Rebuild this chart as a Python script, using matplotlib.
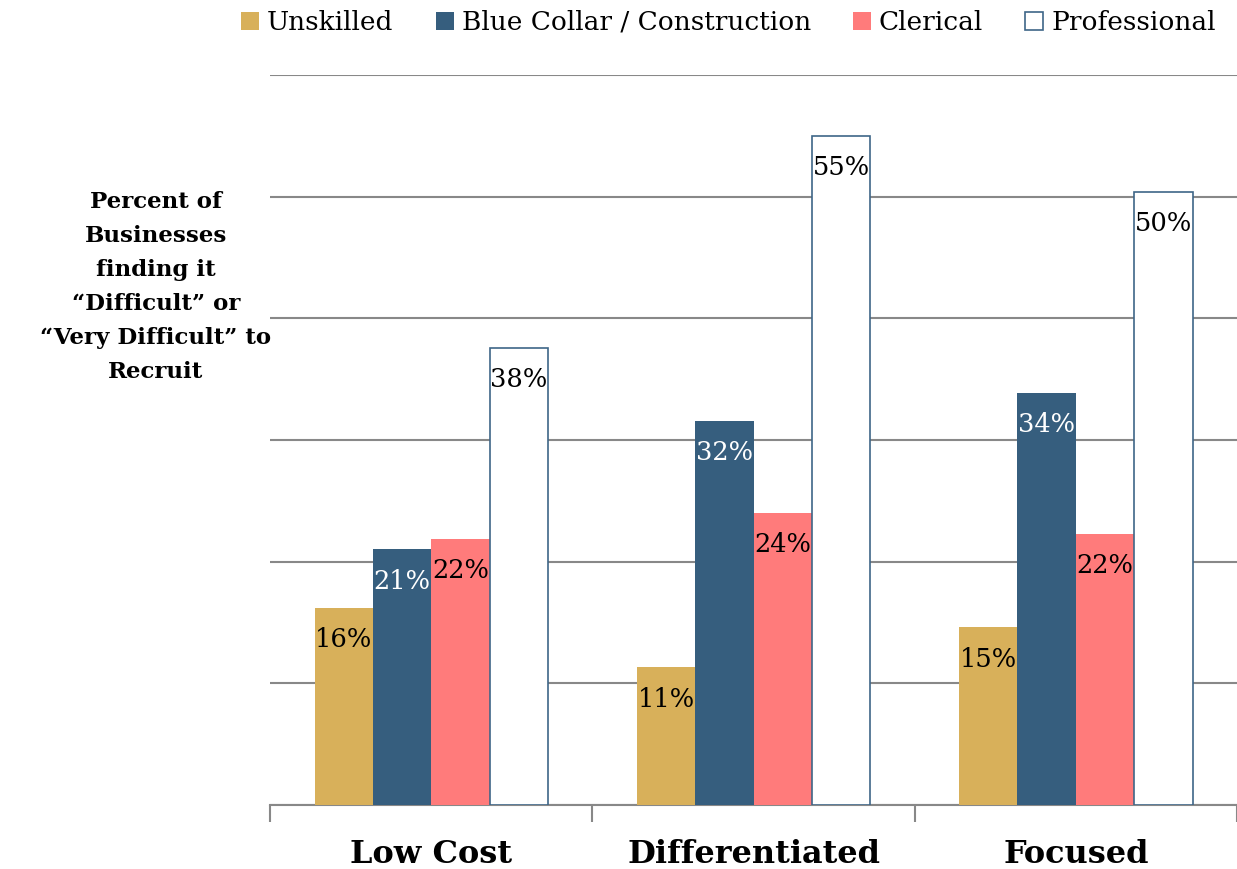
import numpy as np
import matplotlib.pyplot as plt
from matplotlib.patches import Patch

categories = ["Low Cost", "Differentiated", "Focused"]
series = ["Unskilled", "Blue Collar / Construction", "Clerical", "Professional"]
unskilled = [16.2, 11.3, 14.6]
blue_collar = [21.0, 31.6, 33.9]
clerical = [21.9, 24.0, 22.3]
professional = [37.6, 55.0, 50.4]
ylabel = "Percent of\nBusinesses\nfinding it\n\u201cDifficult\u201d or\n\u201cVery Difficult\u201d to\nRecruit"

values = [unskilled, blue_collar, clerical, professional]
faces = ["#D8B05A", "#365E7E", "#FF7B7B", "white"]
edges = ["#D8B05A", "#365E7E", "#FF7B7B", "#3E6688"]
text_colors = ["black", "white", "black", "black"]

plt.rcParams['font.family'] = ['DejaVu Serif']

fig = plt.figure(figsize=(12.37, 8.69), dpi=100)
ax = fig.add_axes([0.2183, 0.0737, 0.7817, 0.84])

x = np.arange(len(categories))
w = 0.181
for i, vals in enumerate(values):
    pos = x + (i - 1.5) * w
    bars = ax.bar(pos, vals, w, color=faces[i], edgecolor=edges[i],
                  linewidth=1.2 if i == 3 else 0, zorder=3)
    for b, v in zip(bars, vals):
        ax.annotate(f"{round(v)}%", (b.get_x() + b.get_width() / 2, v),
                    xytext=(0, -23), textcoords="offset points",
                    ha="center", va="center", fontsize=18.5, color=text_colors[i], zorder=4)

ax.set_xlim(-0.5, 2.5)
ax.set_ylim(0, 60)
ax.set_yticks(np.arange(0, 61, 10))
ax.yaxis.grid(True, color="#888888", linewidth=1.5, zorder=0)
ax.tick_params(axis="y", left=False, labelleft=False)
for s in ["left", "right", "top"]:
    ax.spines[s].set_visible(False)
ax.spines["bottom"].set_color("#888888")
ax.spines["bottom"].set_linewidth(1.5)

ax.set_xticks([-0.5, 0.5, 1.5, 2.5])
ax.set_xticklabels([])
ax.tick_params(axis="x", length=12, width=1.5, color="#888888")
for xi, c in zip(x, categories):
    ax.text(xi, -0.068, c, transform=ax.get_xaxis_transform(), ha="center", va="center",
            fontsize=23, fontweight="bold")

fig.text(0.126, 0.670, ylabel, ha="center", va="center", fontsize=16.5,
         fontweight="bold", linespacing=1.7)

handles = [Patch(facecolor=faces[i], edgecolor=edges[i], linewidth=1.2 if i == 3 else 0)
           for i in range(4)]
fig.legend(handles, series, loc="upper right", bbox_to_anchor=(1.002, 1.016), ncol=4,
           frameon=False, fontsize=19, handlelength=0.68, handleheight=0.68,
           handletextpad=0.3, columnspacing=1.6)

plt.savefig("out.png")
